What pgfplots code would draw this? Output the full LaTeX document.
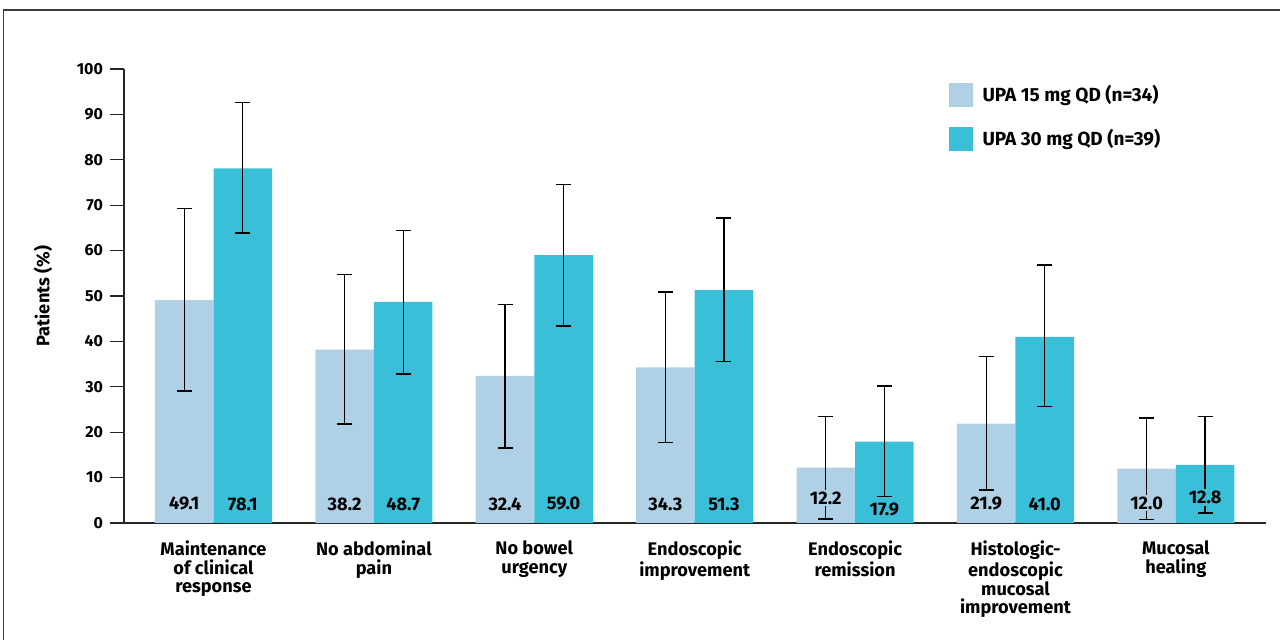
\documentclass[border=0pt]{standalone}
\usepackage{pgfplots}
\pgfplotsset{compat=1.18}
\usepackage{pgfplotstable}
\usepackage{fontspec}
\setmainfont{Fira Sans}

\definecolor{upalow}{HTML}{B0D0E6}
\definecolor{upahigh}{HTML}{39C0D8}
\definecolor{framegray}{HTML}{3A3A3A}

% x: category index, y: % of patients, ep/em: upper/lower CI arm, ly: height of the value label
\pgfplotstableread{
x  y     ep    em    ly
0  49.1  20.2  20.0  4.2
1  38.2  16.5  16.4  4.2
2  32.4  15.8  15.9  4.2
3  34.3  16.6  16.5  4.2
4  12.2  11.2  11.3  5.5
5  21.9  14.7  14.6  4.2
6  12.0  11.1  11.3  4.4
}\lowdose

\pgfplotstableread{
x  y     ep    em    ly
0  78.1  14.5  14.2  4.2
1  48.7  15.8  15.9  4.2
2  59.0  15.6  15.6  4.2
3  51.3  15.9  15.8  4.2
4  17.9  12.3  12.1  2.9
5  41.0  15.8  15.3  4.2
6  12.8  10.6  10.6  5.7
}\highdose

\newcommand{\lblfont}{\bfseries\fontsize{9.1bp}{9.25bp}\selectfont}
\newcommand{\legfont}{\bfseries\fontsize{9.5bp}{10bp}\selectfont}
\newcommand{\tickfont}{\bfseries\fontsize{8bp}{9bp}\selectfont}

\begin{document}
\begin{tikzpicture}
\useasboundingbox (0,0) rectangle (640bp,320bp);
\draw[line width=0.6bp, framegray] (1.75bp,0) -- (1.75bp,315bp) -- (640bp,315bp);
\begin{axis}[
  at={(62bp,58.5bp)}, anchor=south west,
  scale only axis, width=571bp, height=227bp,
  xmin=-0.558, xmax=6.562, ymin=0, ymax=100,
  ybar=0pt, bar width=0.365,
  axis x line*=bottom, axis y line*=left,
  axis line style={line width=0.65bp, black!85},
  ytick={0,10,...,100},
  tick align=outside, major tick length=7bp,
  ytick style={line width=0.65bp, black!85},
  xtick={0,...,6}, xtick style={draw=none},
  xticklabels={{Maintenance\\of clinical\\response},{No abdominal\\pain},{No bowel\\urgency},{Endoscopic\\improvement},{Endoscopic\\remission},{Histologic-\\endoscopic\\mucosal\\improvement},{Mucosal\\healing}},
  xticklabel style={align=center, font=\lblfont, anchor=north, yshift=1.5bp},
  yticklabel style={font=\tickfont},
  /pgf/number format/assume math mode=true,
  ylabel={Patients (\%)},
  ylabel style={font=\lblfont, at={(axis description cs:-0.0709,0.5)}, anchor=center},
  legend style={draw=none, fill=none, at={(0.722,0.969)}, anchor=north west,
    inner sep=0pt, outer sep=0pt, row sep=10bp,
    nodes={inner sep=0pt, anchor=west, font=\legfont},
    /tikz/every odd column/.append style={column sep=5bp}},
  legend cell align=left,
  legend image code/.code={\fill[#1] (0bp,-6bp) rectangle (12bp,6bp);},
  nodes near coords={\pgfmathprintnumber[fixed, fixed zerofill, precision=1]{\pgfplotspointmeta}},
  point meta=y,
]
\addplot[fill=upalow, draw=none,
  visualization depends on={\thisrow{ly}-\thisrow{y} \as \dy},
  every node near coord/.append style={font=\lblfont, anchor=center, inner sep=1bp,
    fill=upalow, shift={(axis direction cs:0,\dy)}},
  error bars/.cd, y dir=both, y explicit,
  error bar style={black, line width=0.65bp},
  error mark options={rotate=90, mark size=3.75bp, line width=0.65bp, black}]
  table[x=x, y=y, y error plus=ep, y error minus=em] {\lowdose};
\addlegendentry{UPA 15 mg QD (n=34)}
\addplot[fill=upahigh, draw=none,
  visualization depends on={\thisrow{ly}-\thisrow{y} \as \dy},
  every node near coord/.append style={font=\lblfont, anchor=center, inner sep=1bp,
    fill=upahigh, shift={(axis direction cs:0,\dy)}},
  error bars/.cd, y dir=both, y explicit,
  error bar style={black, line width=0.65bp},
  error mark options={rotate=90, mark size=3.75bp, line width=0.65bp, black}]
  table[x=x, y=y, y error plus=ep, y error minus=em] {\highdose};
\addlegendentry{UPA 30 mg QD (n=39)}
\end{axis}
\end{tikzpicture}
\end{document}
